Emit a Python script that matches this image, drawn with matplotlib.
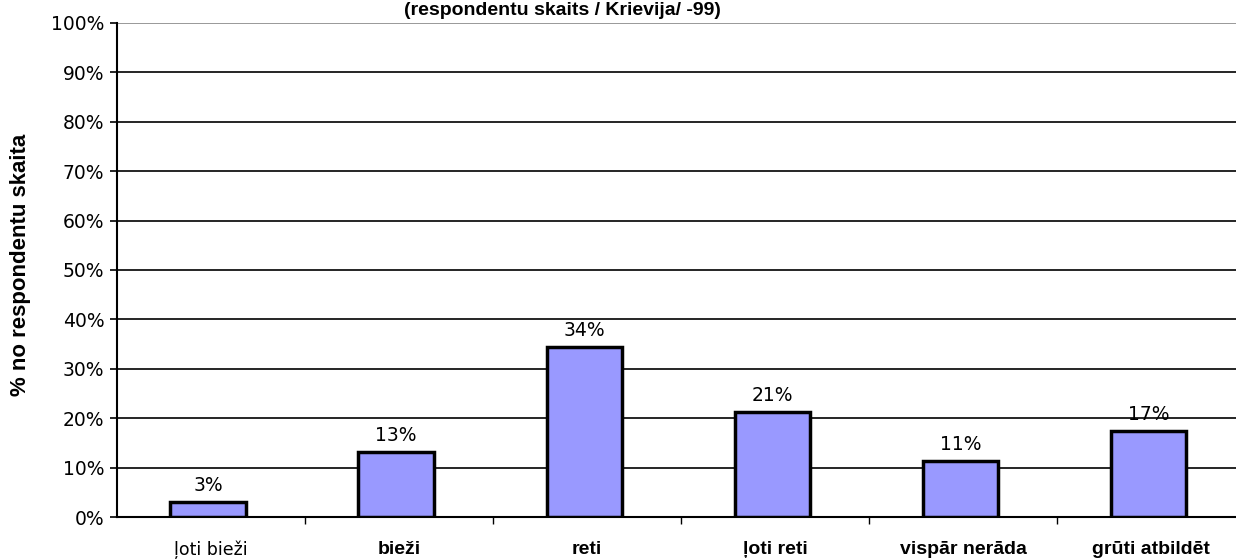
import matplotlib.pyplot as plt
import numpy as np
from matplotlib.ticker import FixedLocator, PercentFormatter

# atbilžu varianti un to daļa (%)
kategorijas = ["ļoti bieži", "bieži", "reti", "ļoti reti", "vispār nerāda", "grūti atbildēt"]
vertibas = [3.1, 13.2, 34.4, 21.3, 11.3, 17.4]
virsraksts = "(respondentu skaits / Krievija/ -99)"
y_nosaukums = "% no respondentu skaita"

fig = plt.figure(figsize=(12.36, 5.59), dpi=100)
ax = fig.add_axes([0.0945, 0.0751, 0.913, 0.884])

x = np.arange(len(kategorijas))
stabi = ax.bar(x - 0.015, vertibas, width=0.4, color="#9999ff", edgecolor="black",
               linewidth=2.5, zorder=3)

for s, v in zip(stabi, vertibas):
    ax.annotate(f"{v:.0f}%", (s.get_x() + s.get_width() / 2, v),
                xytext=(0, 5), textcoords="offset points",
                ha="center", va="bottom", fontsize=13.5, family="DejaVu Sans")

ax.set_xlim(-0.5, len(kategorijas) - 0.5)
ax.set_ylim(0, 100)
ax.yaxis.set_major_locator(FixedLocator(np.arange(0, 101, 10)))
ax.yaxis.set_major_formatter(PercentFormatter(decimals=0))
for t in ax.get_yticklabels():
    t.set_fontsize(13.5)
    t.set_family("DejaVu Sans")

ax.grid(axis="y", color="black", linewidth=1.2, zorder=0)
ax.set_axisbelow(True)
ax.get_ygridlines()[-1].set_color("#888888")

ax.set_xticks(x)
ax.set_xticklabels(kategorijas)
ax.tick_params(axis="x", which="major", length=0, pad=17)
ax.xaxis.set_minor_locator(FixedLocator(x[:-1] + 0.5))
ax.tick_params(axis="x", which="minor", length=5, width=1, direction="out")
ax.tick_params(axis="y", length=5, width=1.2, direction="out", pad=4)
for i, t in enumerate(ax.get_xticklabels()):
    if i == 0:
        t.set_family("DejaVu Sans")
        t.set_fontsize(12.5)
    else:
        t.set_family("Liberation Sans")
        t.set_fontweight("bold")
        t.set_fontsize(14)

for side in ["top", "right"]:
    ax.spines[side].set_visible(False)
ax.spines["left"].set_linewidth(1.5)
ax.spines["bottom"].set_linewidth(1.5)

ax.set_ylabel(y_nosaukums, fontsize=16, fontweight="bold",
              family="Liberation Sans")
ax.yaxis.set_label_coords(-0.076, 0.51)

fig.text(0.455, 0.982, virsraksts, ha="center", va="center",
         fontsize=14, fontweight="bold", family="Liberation Sans")

fig.savefig("out.png", dpi=100)
